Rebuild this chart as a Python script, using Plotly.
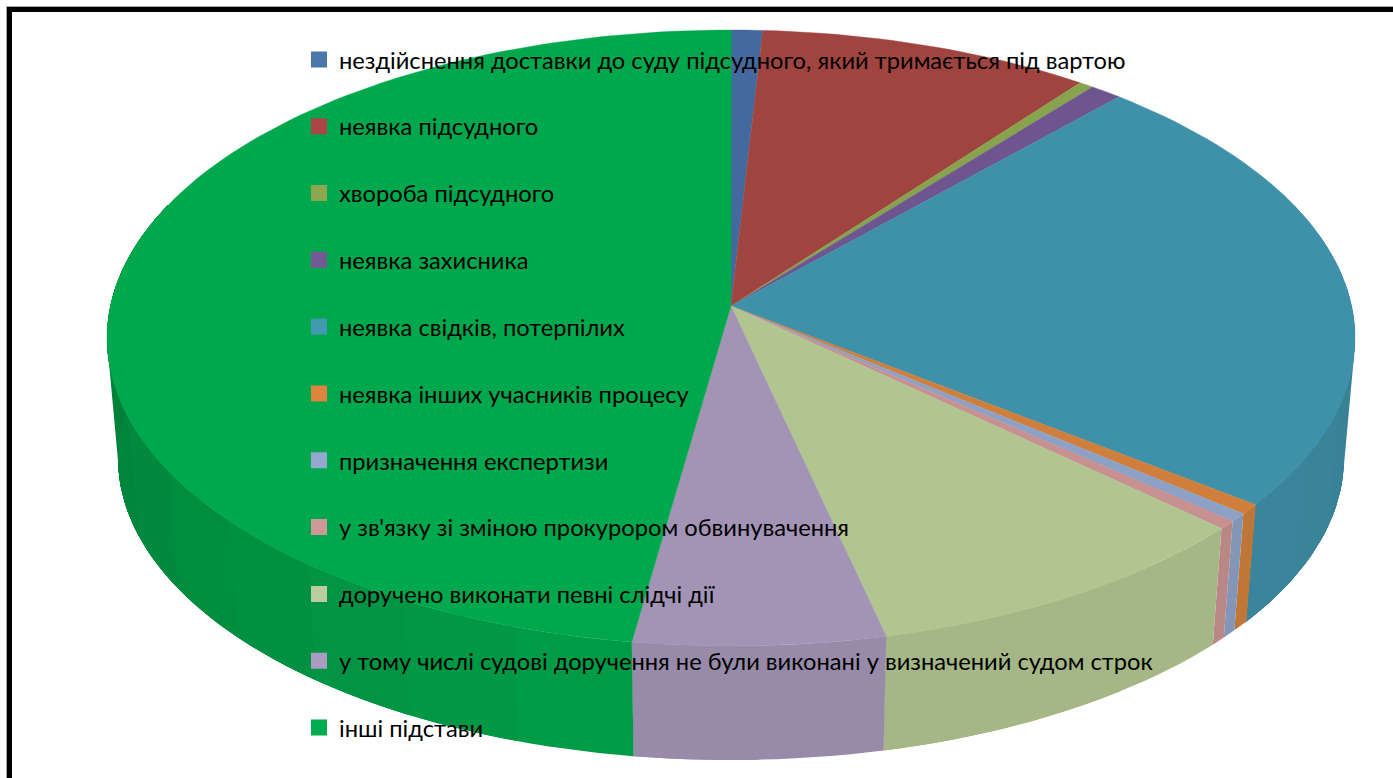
import math
import plotly.graph_objects as go

categories = [
    "нездійснення доставки до суду підсудного, який тримається під вартою",
    "неявка підсудного",
    "хвороба підсудного",
    "неявка захисника",
    "неявка свідків, потерпілих",
    "неявка інших учасників процесу",
    "призначення експертизи",
    "у зв'язку зі зміною прокурором обвинувачення",
    "доручено виконати певні слідчі дії",
    "у тому числі судові доручення не були виконані у визначений судом строк",
    "інші підстави",
]
values = [0.90, 9.52, 0.42, 0.92, 23.70, 0.53, 0.44, 0.44, 9.52, 5.90, 47.72]
top_colors = ["#44699F", "#A04440", "#88A34E", "#6E5590", "#3F91A9", "#CF7F3B",
              "#8DA1C6", "#C69190", "#B1C590", "#A394B6", "#00A84D"]
legend_colors = ["#4A76AB", "#AA4644", "#8BA750", "#735A95", "#4399B0", "#DD843E",
                 "#95A9D0", "#D09896", "#BBCC9E", "#AA9BC0", "#00AC50"]

W, H = 1393, 778
PERSP = 0.104
TOP = dict(cx=731, cy=338, rx=624, ry=308)
BOTTOM = dict(cx=731, cy=458, rx=613, ry=302)


def project(theta_deg, e):
    """Clockwise angle from 12 o'clock on a disc -> screen position under perspective."""
    t = math.radians(theta_deg)
    u, v = math.sin(t), math.cos(t)
    yt, yb = e["cy"] - e["ry"], e["cy"] + e["ry"]
    b = ((1 + PERSP) * yt + (1 - PERSP) * yb) / 2
    a = (1 + PERSP) * yt - b
    r = e["rx"] * math.sqrt(1 - PERSP ** 2)
    w = PERSP * v + 1
    return e["cx"] + r * u / w, (a * v + b) / w


def apex(e):
    yt, yb = e["cy"] - e["ry"], e["cy"] + e["ry"]
    return e["cx"], ((1 + PERSP) * yt + (1 - PERSP) * yb) / 2


def shade(hex_color, f):
    rgb = [int(hex_color[i:i + 2], 16) for i in (1, 3, 5)]
    return "rgb({},{},{})".format(*[round(c * f) for c in rgb])


def side_factor(theta):
    if theta >= 190:
        return 0.93 - (theta - 190) / 80 * 0.17
    if theta >= 130:
        return 0.93
    return 0.93 - (130 - theta) / 60 * 0.08


fig = go.Figure()

bounds = [0.0]
for val in values:
    bounds.append(bounds[-1] + val * 3.6)

# side wall (only the part turned to the viewer); bands overlap so no seams show
for i, col in enumerate(top_colors):
    a0, a1 = max(bounds[i], 70), min(bounds[i + 1], 290)
    if a1 <= a0:
        continue
    n = max(1, round((a1 - a0) / 10))
    for k in range(n):
        s0 = a0 + (a1 - a0) * k / n
        m = max(2, round((a1 - s0) / 1.5))
        steps = [s0 + (a1 - s0) * j / m for j in range(m + 1)]
        upper = [project(t, TOP) for t in steps]
        lower = [project(t, BOTTOM) for t in reversed(steps)]
        pts = upper + lower + upper[:1]
        c = shade(col, side_factor(s0 + (a1 - a0) / n / 2))
        fig.add_trace(go.Scatter(
            x=[p[0] for p in pts], y=[p[1] for p in pts], mode="lines",
            fill="toself", fillcolor=c, line=dict(width=0),
            showlegend=False, hoverinfo="skip"))

# top surface
for i, col in enumerate(top_colors):
    a0, a1 = bounds[i], bounds[i + 1]
    n = max(2, round((a1 - a0) / 1.5))
    rim = [project(a0 + (a1 - a0) * j / n, TOP) for j in range(n + 1)]
    pts = [apex(TOP)] + rim + [apex(TOP)]
    fig.add_trace(go.Scatter(
        x=[p[0] for p in pts], y=[p[1] for p in pts], mode="lines",
        fill="toself", fillcolor=col, line=dict(color=col, width=0.4),
        name=categories[i], showlegend=False,
        hovertemplate=f"{categories[i]}: {values[i]}%<extra></extra>"))

# legend entries
for i, name in enumerate(categories):
    fig.add_trace(go.Scatter(
        x=[None], y=[None], mode="markers", name=name, legendgroup=str(i),
        marker=dict(symbol="square", size=16, color=legend_colors[i])))

fig.update_xaxes(range=[0, W], visible=False)
fig.update_yaxes(range=[H, 0], visible=False)
fig.update_layout(
    width=W, height=H, margin=dict(l=0, r=0, t=0, b=0),
    paper_bgcolor="white", plot_bgcolor="white",
    font=dict(family="Lato, Carlito, 'Open Sans', sans-serif", color="black", size=23.7),
    legend=dict(x=299 / W, y=1 - 37.5 / H, xanchor="left", yanchor="top",
                bgcolor="rgba(0,0,0,0)", borderwidth=0, tracegroupgap=33,
                itemwidth=30, itemclick=False, itemdoubleclick=False),
    shapes=[
        dict(type="rect", xref="x", yref="y", x0=6.5, y0=6.5, x1=1460, y1=860,
             line=dict(color="#A8A8A8", width=1)),
        dict(type="rect", xref="x", yref="y", x0=9.5, y0=9.5, x1=1460, y1=860,
             line=dict(color="black", width=5)),
    ],
)

fig.write_html("out.html", config=dict(displayModeBar=False),
               post_script="document.body.style.margin='0';")
